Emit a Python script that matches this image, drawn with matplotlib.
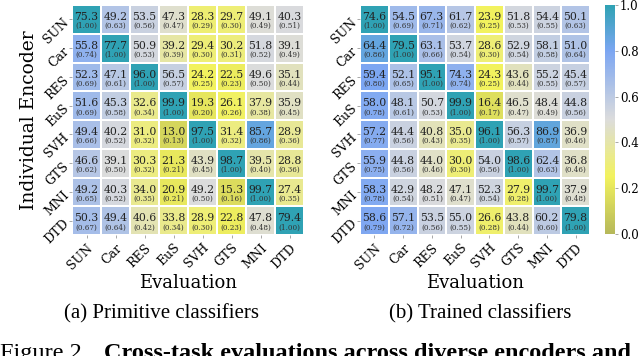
import numpy as np
import matplotlib
matplotlib.use("Agg")
import matplotlib.pyplot as plt
from matplotlib.colors import LinearSegmentedColormap

# task names (rows = individual encoder, cols = evaluation)
tasks = ["SUN", "Car", "RES", "EuS", "SVH", "GTS", "MNI", "DTD"]

# (a) primitive classifiers: accuracy and normalized accuracy
prim_acc = [
    [75.3, 49.2, 53.5, 47.3, 28.3, 29.7, 49.1, 40.3],
    [55.8, 77.7, 50.9, 39.2, 29.4, 30.2, 51.8, 39.1],
    [52.3, 47.1, 96.0, 56.5, 24.2, 22.5, 49.6, 35.1],
    [51.6, 45.3, 32.6, 99.9, 19.3, 26.1, 37.9, 35.9],
    [49.4, 40.2, 31.0, 13.0, 97.5, 31.4, 85.7, 28.9],
    [46.6, 39.1, 30.3, 21.3, 43.9, 98.7, 39.5, 28.8],
    [49.2, 40.3, 34.0, 20.9, 49.2, 15.3, 99.7, 27.4],
    [50.3, 49.4, 40.6, 33.8, 28.9, 22.8, 47.8, 79.4],
]
prim_norm = [
    [1.00, 0.63, 0.56, 0.47, 0.29, 0.30, 0.49, 0.51],
    [0.74, 1.00, 0.53, 0.39, 0.30, 0.31, 0.52, 0.49],
    [0.69, 0.61, 1.00, 0.57, 0.25, 0.23, 0.50, 0.44],
    [0.69, 0.58, 0.34, 1.00, 0.20, 0.26, 0.38, 0.45],
    [0.66, 0.52, 0.32, 0.13, 1.00, 0.32, 0.86, 0.36],
    [0.62, 0.50, 0.32, 0.21, 0.45, 1.00, 0.40, 0.36],
    [0.65, 0.52, 0.35, 0.21, 0.50, 0.16, 1.00, 0.35],
    [0.67, 0.64, 0.42, 0.34, 0.30, 0.23, 0.48, 1.00],
]

# (b) trained classifiers
trained_acc = [
    [74.6, 54.5, 67.3, 61.7, 23.9, 51.8, 54.4, 50.1],
    [64.4, 79.5, 63.1, 53.7, 28.6, 52.9, 58.1, 51.0],
    [59.4, 52.1, 95.1, 74.3, 24.3, 43.6, 55.2, 45.4],
    [58.0, 48.1, 50.7, 99.9, 16.4, 46.5, 48.4, 44.8],
    [57.2, 44.4, 40.8, 35.0, 96.1, 56.3, 86.9, 36.9],
    [55.9, 44.8, 44.0, 30.0, 54.0, 98.6, 62.4, 36.8],
    [58.3, 42.9, 48.2, 47.1, 52.3, 27.9, 99.7, 37.9],
    [58.6, 57.1, 53.5, 55.0, 26.6, 43.8, 60.2, 79.8],
]
trained_norm = [
    [1.00, 0.69, 0.71, 0.62, 0.25, 0.53, 0.55, 0.63],
    [0.86, 1.00, 0.66, 0.54, 0.30, 0.54, 0.58, 0.64],
    [0.80, 0.65, 1.00, 0.74, 0.25, 0.44, 0.55, 0.57],
    [0.78, 0.61, 0.53, 1.00, 0.17, 0.47, 0.49, 0.56],
    [0.77, 0.56, 0.43, 0.35, 1.00, 0.57, 0.87, 0.46],
    [0.75, 0.56, 0.46, 0.30, 0.56, 1.00, 0.63, 0.46],
    [0.78, 0.54, 0.51, 0.47, 0.54, 0.28, 1.00, 0.48],
    [0.79, 0.72, 0.56, 0.55, 0.28, 0.44, 0.60, 1.00],
]

cmap = LinearSegmentedColormap.from_list(
    "olive_teal",
    [(0.0, "#b6b85a"), (0.25, "#f2f25e"), (0.5, "#dcdcdc"),
     (0.8, "#7ca6f2"), (1.0, "#2fa2b4")])

plt.rcParams["font.family"] = "DejaVu Serif"

fig = plt.figure(figsize=(6.4, 3.56), dpi=100)
W, H = 640, 356


def px_axes(x0, y0, x1, y1):
    return fig.add_axes([x0 / W, 1 - y1 / H, (x1 - x0) / W, (y1 - y0) / H])


def draw(ax, acc, norm, ylabel):
    acc = np.array(acc)
    norm = np.array(norm)
    mesh = ax.pcolormesh(norm, cmap=cmap, vmin=0, vmax=1,
                         edgecolors="white", linewidth=0.3)
    ax.set_xlim(0, 8)
    ax.set_ylim(8, 0)
    for i in range(8):
        for j in range(8):
            ax.text(j + 0.5, i + 0.42, f"{acc[i, j]:.1f}", ha="center",
                    va="center", fontsize=7.8, color="#222222")
            ax.text(j + 0.5, i + 0.74, f"({norm[i, j]:.2f})", ha="center",
                    va="center", fontsize=5.2, color="#333333")
    ax.set_xticks(np.arange(8) + 0.5)
    ax.set_yticks(np.arange(8) + 0.5)
    ax.set_xticklabels(tasks, rotation=45, ha="right", rotation_mode="anchor",
                       fontsize=9)
    ax.set_yticklabels(tasks, rotation=45, ha="right", rotation_mode="anchor",
                       fontsize=9)
    ax.tick_params(length=2.5, width=0.6, color="#999999", pad=2)
    for s in ax.spines.values():
        s.set_visible(False)
    ax.set_xlabel("Evaluation", fontsize=13, labelpad=2)
    if ylabel:
        ax.set_ylabel("Individual Encoder", fontsize=13.5, labelpad=2)
    return mesh


ax1 = px_axes(72, 5, 304, 235)
draw(ax1, prim_acc, prim_norm, True)
ax2 = px_axes(360, 5, 590, 235)
mesh = draw(ax2, trained_acc, trained_norm, False)

cax = px_axes(605, 5, 615, 234)
cb = fig.colorbar(mesh, cax=cax, ticks=[0, 0.2, 0.4, 0.6, 0.8, 1.0])
cb.outline.set_visible(False)
cb.ax.tick_params(labelsize=8.5, length=2.5, width=0.6, color="#999999", pad=1)

# sub-captions and (cut off) figure caption
cap = "Liberation Serif"
fig.text(161 / W, 1 - 314 / H, "(a) Primitive classifiers", ha="center",
         va="center", fontsize=15, family=cap)
fig.text(480 / W, 1 - 314 / H, "(b) Trained classifiers", ha="center",
         va="center", fontsize=15, family=cap)
fig.text(0 / W, 1 - 343 / H, "Figure 2.", ha="left", va="top",
         fontsize=17.5, family=cap)
fig.text(104 / W, 1 - 343 / H,
         "Cross-task evaluations across diverse encoders and",
         ha="left", va="top", fontsize=17.5, family=cap, weight="bold")

fig.savefig("out.png", dpi=100)
